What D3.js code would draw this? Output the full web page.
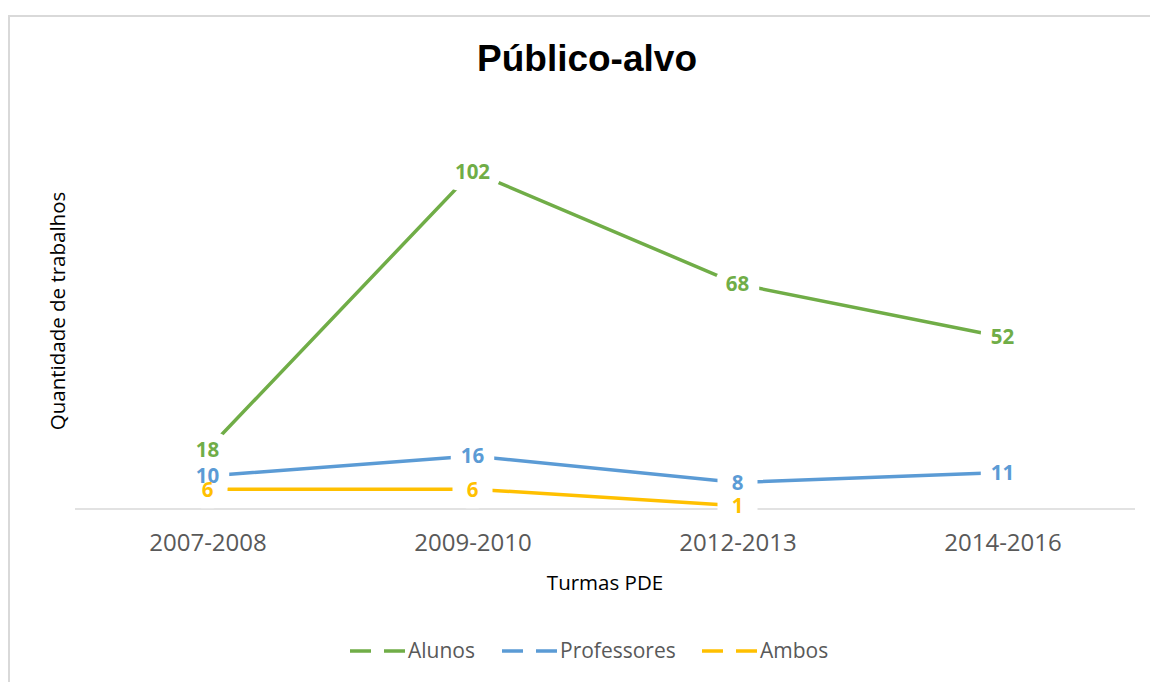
<!DOCTYPE html>
<html>
<head>
<meta charset="utf-8">
<script src="https://cdn.jsdelivr.net/npm/d3@7"></script>
<style>
  body { margin: 0; background: #fff; }
  svg { display: block; }
</style>
</head>
<body>
<div id="chart"></div>
<script>
// data
var turmas = ["2007-2008", "2009-2010", "2012-2013", "2014-2016"];
var alunos = [18, 102, 68, 52];
var professores = [10, 16, 8, 11];
var ambos = [6, 6, 1, null];
var seriesNames = ["Alunos", "Professores", "Ambos"];
var seriesColors = ["#70AD47", "#5B9BD5", "#FFC000"];

var W = 1150, H = 682;
var svg = d3.select("#chart").append("svg")
    .attr("width", W)
    .attr("height", H);

// chart frame
svg.append("rect")
    .attr("x", 9).attr("y", 16)
    .attr("width", W + 20).attr("height", H + 20)
    .attr("fill", "none")
    .attr("stroke", "#d9d9d9")
    .attr("stroke-width", 2);

var x = d3.scalePoint()
    .domain(turmas)
    .range([75, 1135])
    .padding(0.5);

var y = d3.scaleLinear()
    .domain([0, 120])
    .range([509, 112]);

// title
svg.append("text")
    .attr("x", 587).attr("y", 71)
    .attr("text-anchor", "middle")
    .style("font-family", "'Liberation Sans', Arial, sans-serif")
    .style("font-weight", "bold")
    .style("font-size", "37px")
    .attr("fill", "#000")
    .text("Público-alvo");

// x axis
var xAxis = svg.append("g")
    .attr("transform", "translate(0," + y(0) + ")")
    .call(d3.axisBottom(x).tickSize(0).tickPadding(25));
xAxis.select(".domain")
    .attr("d", "M75,0H1135")
    .attr("stroke", "#d9d9d9")
    .attr("stroke-width", 1.5);
xAxis.selectAll("text")
    .style("font-family", "'Open Sans', sans-serif")
    .style("font-size", "24px")
    .attr("fill", "#595959");

// axis titles
svg.append("text")
    .attr("x", 605).attr("y", 590)
    .attr("text-anchor", "middle")
    .style("font-family", "'Open Sans', sans-serif")
    .style("font-size", "20.5px")
    .attr("fill", "#000")
    .text("Turmas PDE");

svg.append("text")
    .attr("transform", "translate(65,311) rotate(-90)")
    .attr("text-anchor", "middle")
    .style("font-family", "'Open Sans', sans-serif")
    .style("font-size", "20.5px")
    .attr("fill", "#000")
    .text("Quantidade de trabalhos");

var allSeries = [alunos, professores, ambos];

var line = d3.line()
    .defined(function(d) { return d != null; })
    .x(function(d, i) { return x(turmas[i]); })
    .y(function(d) { return y(d); });

allSeries.forEach(function(vals, s) {
    svg.append("path")
        .datum(vals)
        .attr("fill", "none")
        .attr("stroke", seriesColors[s])
        .attr("stroke-width", 3.5)
        .attr("d", line);
});

// data labels: white boxes first, then the texts over them
var labelData = [];
allSeries.forEach(function(vals, s) {
    vals.forEach(function(v, i) {
        if (v != null) labelData.push({ s: s, i: i, v: v });
    });
});

var boxLayer = svg.append("g");
var textLayer = svg.append("g");

labelData.forEach(function(d) {
    var t = textLayer.append("text")
        .attr("x", x(turmas[d.i]))
        .attr("y", y(d.v))
        .attr("text-anchor", "middle")
        .attr("dy", "0.36em")
        .style("font-family", "'Open Sans', sans-serif")
        .style("font-weight", "bold")
        .style("font-size", "20.5px")
        .attr("fill", seriesColors[d.s])
        .text(d.v);
    var bw = t.node().getComputedTextLength() + 20;
    bw = Math.max(bw, 40);
    boxLayer.append("rect")
        .attr("x", x(turmas[d.i]) - bw / 2)
        .attr("y", y(d.v) - 17)
        .attr("width", bw)
        .attr("height", 36)
        .attr("rx", 14)
        .attr("fill", "#fff");
});

// legend
var legendX = [350, 502, 702];
seriesNames.forEach(function(name, s) {
    var g = svg.append("g")
        .attr("transform", "translate(" + legendX[s] + ",651)");
    g.append("line")
        .attr("x1", 0).attr("x2", 55)
        .attr("y1", 0).attr("y2", 0)
        .attr("stroke", seriesColors[s])
        .attr("stroke-width", 3.5)
        .attr("stroke-dasharray", "21,13");
    g.append("text")
        .attr("x", 58)
        .attr("dy", "0.35em")
        .style("font-family", "'Open Sans', sans-serif")
        .style("font-size", "21px")
        .attr("fill", "#595959")
        .text(name);
});
</script>
</body>
</html>
